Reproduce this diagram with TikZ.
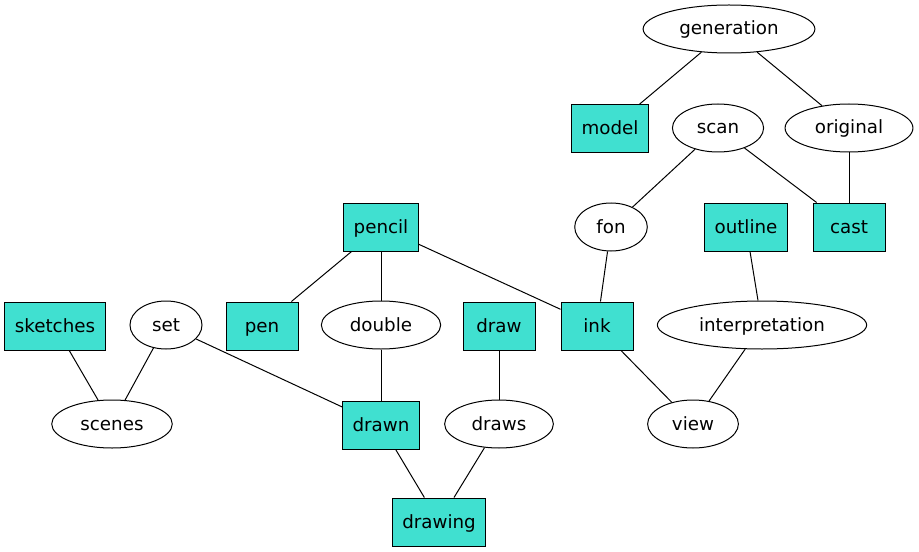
\documentclass[tikz,border=0pt]{standalone}
\usepackage{fontspec}
\setmainfont{DejaVu Sans}
\usetikzlibrary{shapes.geometric}
\definecolor{turq}{RGB}{64,224,208}
\tikzset{
	word/.style={draw=black, line width=0.75pt, font=\fontsize{13.7}{16}\selectfont, text height=11pt, text depth=2pt, minimum width=54pt, minimum height=36pt},
	oval/.style={word, ellipse, inner xsep=8.3pt, inner ysep=2pt},
	tile/.style={word, rectangle, fill=turq, inner xsep=7.5pt},
	link/.style={line width=0.75pt}
}

\begin{document}
\begin{tikzpicture}[x=0.75pt, y=-0.75pt]
			%%%%% START %%%%%
			\useasboundingbox (0, 0) rectangle (919, 552);
			
			\node[oval] (generation) at (729, 29) {generation};
			\node[tile] (model) at (610, 129) {model};
			\node[oval] (scan) at (718, 128) {scan};
			\node[oval] (original) at (849, 128) {original};
			
			\node[oval] (fon) at (611, 227) {fon};
			\node[tile] (outline) at (746, 227) {outline};
			\node[tile] (cast) at (849, 227) {cast};
			\node[tile] (pencil) at (381, 227) {pencil};
			
			\node[tile] (sketches) at (55, 326) {sketches};
			\node[oval] (set) at (166, 325) {set};
			\node[tile] (pen) at (262, 326) {pen};
			\node[oval] (double) at (381, 325) {double};
			\node[tile] (draw) at (499, 326) {draw};
			\node[tile] (ink) at (597, 326) {ink};
			\node[oval] (interpretation) at (762, 325) {interpretation};
			
			\node[oval] (scenes) at (112, 424) {scenes};
			\node[tile] (drawn) at (381, 425) {drawn};
			\node[oval] (draws) at (499, 424) {draws};
			\node[oval] (view) at (693, 424) {view};
			
			\node[tile] (drawing) at (439, 522) {drawing};
			
			% edges
			\draw[link] (generation) -- (model);
			\draw[link] (generation) -- (original);
			\draw[link] (scan) -- (fon);
			\draw[link] (scan) -- (cast);
			\draw[link] (original) -- (cast);
			\draw[link] (fon) -- (ink);
			\draw[link] (outline) -- (interpretation);
			\draw[link] (pencil) -- (pen);
			\draw[link] (pencil) -- (double);
			\draw[link] (pencil) -- (ink);
			\draw[link] (sketches) -- (scenes);
			\draw[link] (set) -- (scenes);
			\draw[link] (set) -- (drawn);
			\draw[link] (double) -- (drawn);
			\draw[link] (draw) -- (draws);
			\draw[link] (ink) -- (view);
			\draw[link] (interpretation) -- (view);
			\draw[link] (drawn) -- (drawing);
			\draw[link] (draws) -- (drawing);
			
			%%%%% END %%%%%
\end{tikzpicture}
\end{document}
